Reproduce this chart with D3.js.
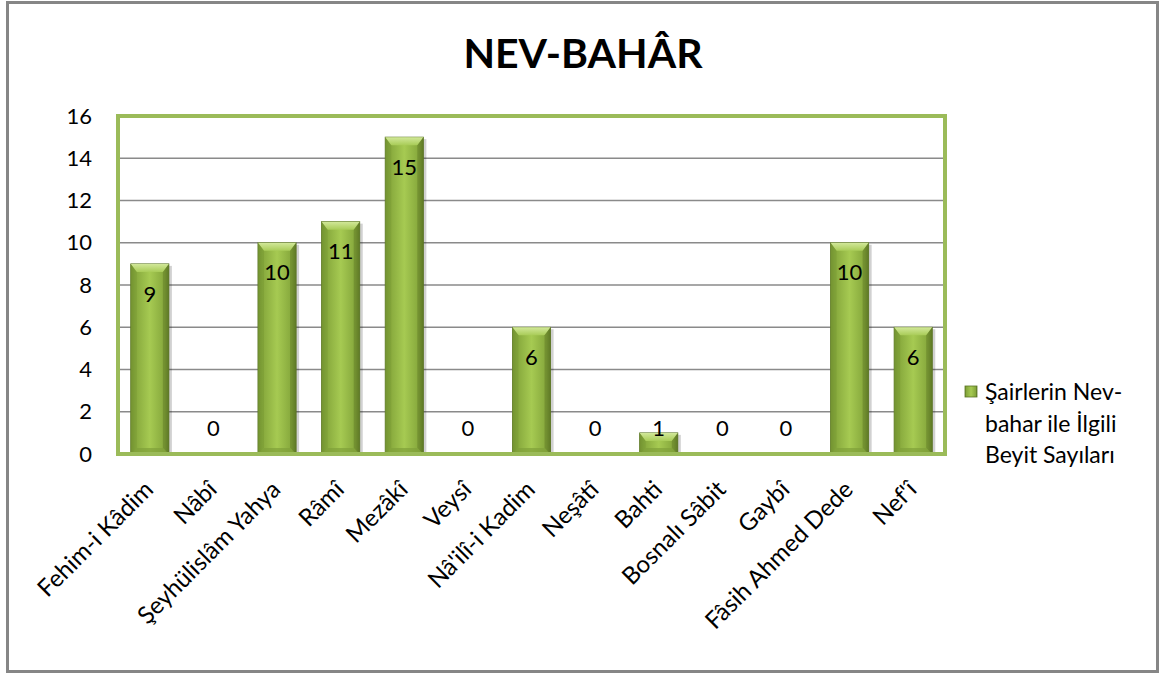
<!DOCTYPE html>
<html><head><meta charset="utf-8">
<script src="https://cdn.jsdelivr.net/npm/d3@7"></script>
<style>body{margin:0;background:#fff}svg{display:block}</style>
</head><body>
<script>
const categories = ["Fehim-i Kâdim","Nâbî","Şeyhülislâm Yahya","Râmî","Mezâkî","Veysî","Nâ'ilî-i Kadim","Neşâtî","Bahti","Bosnalı Sâbit","Gaybî","Fâsih Ahmed Dede","Nef'î"];
const values = [9,0,10,11,15,0,6,0,1,0,0,10,6];
const yTicks = [0,2,4,6,8,10,12,14,16];
const title = "NEV-BAHÂR";
const legendLines = ["Şairlerin Nev-","bahar ile İlgili","Beyit Sayıları"];

const W=1162,H=675;
const FONT="Lato, 'Open Sans', sans-serif";
const svg=d3.select("body").append("svg").attr("width",W).attr("height",H);
const defs=svg.append("defs");
const g1=defs.append("linearGradient").attr("id","barg").attr("x1","0").attr("x2","1").attr("y1","0").attr("y2","0");
[[0,"#6f8c2e"],[0.12,"#86a83c"],[0.5,"#a6ca52"],[0.88,"#86a83c"],[1,"#5f7a26"]].forEach(([o,c])=>g1.append("stop").attr("offset",o).attr("stop-color",c));
const g2=defs.append("linearGradient").attr("id","bevel").attr("x1","0").attr("x2","0").attr("y1","0").attr("y2","1");
[[0,"#d2e89a"],[1,"#a9cc58"]].forEach(([o,c])=>g2.append("stop").attr("offset",o).attr("stop-color",c));

// outer border
svg.append("rect").attr("x",7.5).attr("y",2.5).attr("width",1150).attr("height",669).attr("fill","#fff").attr("stroke","#868686").attr("stroke-width",3);

const px0=118,px1=945,py0=116,py1=454;
const x=d3.scaleBand().domain(categories).range([px0,px1]).paddingInner(0.4).paddingOuter(0.2);
const y=d3.scaleLinear().domain([0,16]).range([py1,py0]);

// gridlines
svg.append("g").selectAll("line").data(yTicks.slice(1,-1)).join("line")
 .attr("x1",px0).attr("x2",px1).attr("y1",d=>y(d)).attr("y2",d=>y(d))
 .attr("stroke","#8a8a8a").attr("stroke-width",1.5);

// y axis labels
const ya=svg.append("g").attr("transform",`translate(92,0)`).call(d3.axisLeft(y).tickValues(yTicks).tickSize(0).tickPadding(0));
ya.select(".domain").remove();
ya.selectAll("text").attr("font-family",FONT).attr("font-size",22).attr("fill","#000");

// bars
const bars=svg.append("g");
categories.forEach((c,i)=>{
  const v=values[i]; if(v<=0) return;
  const bx=x(c),bw=x.bandwidth(),by=y(v),bh=y(0)-y(v);
  bars.append("rect").attr("x",bx+3).attr("y",by+2).attr("width",bw).attr("height",bh-2).attr("fill","#000").attr("opacity",0.18);
  bars.append("rect").attr("x",bx).attr("y",by).attr("width",bw).attr("height",bh).attr("fill","url(#barg)").attr("stroke","#5a7424").attr("stroke-width",0.8);
  const bv=Math.min(8,bh/2);
  bars.append("path").attr("d",`M${bx},${by}L${bx+bw},${by}L${bx+bw-6},${by+bv}L${bx+6},${by+bv}Z`).attr("fill","url(#bevel)");
  bars.append("path").attr("d",`M${bx},${by}L${bx+6},${by+bv}L${bx+6},${by+bh-6}L${bx},${by+bh}Z`).attr("fill","#789a33").attr("opacity",0.5);
  bars.append("path").attr("d",`M${bx+bw},${by}L${bx+bw-6},${by+bv}L${bx+bw-6},${by+bh-6}L${bx+bw},${by+bh}Z`).attr("fill","#5f7a26").attr("opacity",0.5);
  bars.append("path").attr("d",`M${bx},${by+bh}L${bx+6},${by+bh-6}L${bx+bw-6},${by+bh-6}L${bx+bw},${by+bh}Z`).attr("fill","#7f9f39").attr("opacity",0.7);
});

// value labels
svg.append("g").selectAll("text").data(categories).join("text")
 .attr("x",c=>x(c)+x.bandwidth()/2)
 .attr("y",(c,i)=>Math.min(y(values[i])+30,y(0)-26))
 .attr("dy","0.35em").attr("text-anchor","middle")
 .attr("font-family",FONT).attr("font-size",22).attr("fill","#000")
 .text((c,i)=>values[i]);

// plot border
svg.append("rect").attr("x",px0).attr("y",py0).attr("width",px1-px0).attr("height",py1-py0)
 .attr("fill","none").attr("stroke","#9bbb59").attr("stroke-width",4);

// x labels
const xa=svg.append("g").attr("transform",`translate(0,${py1})`).call(d3.axisBottom(x).tickSize(0).tickPadding(0));
xa.select(".domain").remove();
xa.selectAll("text").attr("font-family",FONT).attr("font-size",24).attr("fill","#000")
 .attr("text-anchor","end").attr("dy",null).attr("y",0)
 .attr("transform","translate(5,37) rotate(-45)");

// title
svg.append("text").attr("x",583).attr("y",68).attr("text-anchor","middle")
 .attr("font-family",FONT).attr("font-weight","bold").attr("font-size",41).text(title);

// legend
svg.append("rect").attr("x",965).attr("y",386).attr("width",12).attr("height",11).attr("fill","url(#barg)").attr("stroke","#5a7424").attr("stroke-width",0.8);
svg.append("g").selectAll("text").data(legendLines).join("text")
 .attr("x",985).attr("y",(d,i)=>392+i*31.5).attr("dy","0.35em")
 .attr("font-family",FONT).attr("font-size",23).attr("fill","#000").text(d=>d);
</script>
</body></html>
